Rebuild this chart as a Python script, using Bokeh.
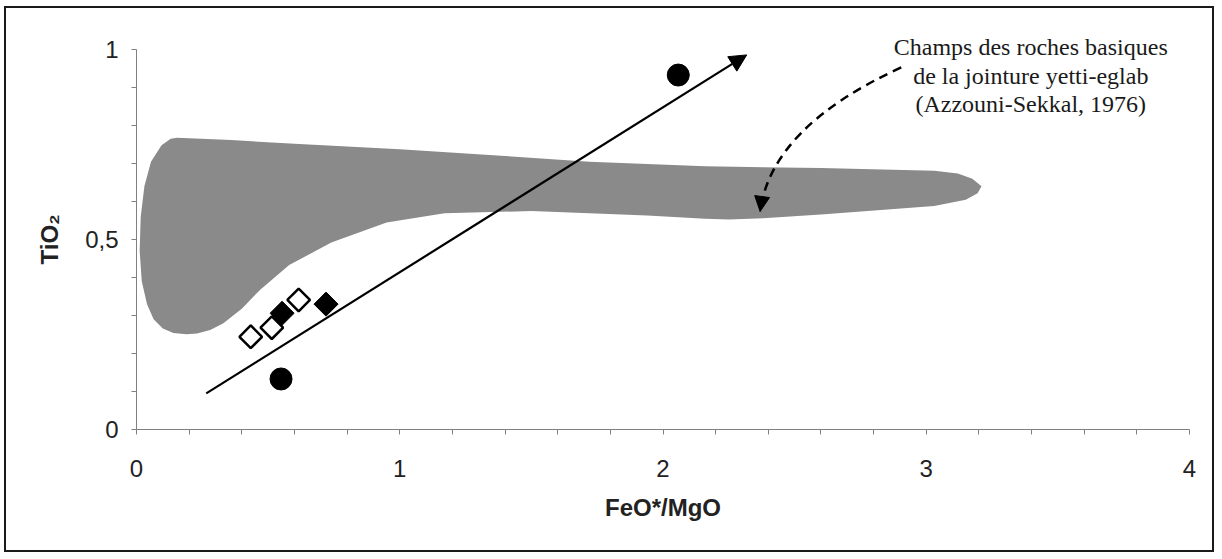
from bokeh.plotting import figure
from bokeh.models import FixedTicker, Arrow, NormalHead, Title
from bokeh.core.properties import value
from bokeh.embed import file_html
from bokeh.resources import INLINE

# --- data ---
# field of basic rocks of the Yetti-Eglab junction (Azzouni-Sekkal, 1976), outline
field_x = [0.154, 0.360, 0.600, 1.000, 1.400, 1.720, 2.160, 2.600, 3.030, 3.120, 3.175, 3.210,
           3.195, 3.150, 3.030, 2.600, 2.380, 2.250, 2.160, 1.940, 1.500, 1.170, 0.950, 0.740,
           0.580, 0.470, 0.400, 0.330, 0.280, 0.230, 0.190, 0.140, 0.100, 0.065, 0.040, 0.020,
           0.012, 0.016, 0.030, 0.055, 0.095, 0.130]
field_y = [0.768, 0.762, 0.752, 0.738, 0.720, 0.705, 0.693, 0.688, 0.681, 0.674, 0.660, 0.640,
           0.622, 0.605, 0.588, 0.566, 0.556, 0.553, 0.555, 0.563, 0.575, 0.569, 0.545, 0.492,
           0.433, 0.368, 0.318, 0.280, 0.262, 0.253, 0.251, 0.254, 0.266, 0.290, 0.330, 0.390,
           0.470, 0.560, 0.640, 0.705, 0.748, 0.765]

open_diamond_x = [0.434, 0.514, 0.616]
open_diamond_y = [0.244, 0.268, 0.341]
filled_diamond_x = [0.553, 0.720]
filled_diamond_y = [0.306, 0.330]
circle_x = [0.549, 2.058]
circle_y = [0.133, 0.933]

# trend arrow (start, end)
trend_x = [0.265, 2.318]
trend_y = [0.095, 0.986]

# dashed pointer: start, control, end
pointer_x = [2.905, 2.412, 2.369]
pointer_y = [0.953, 0.797, 0.574]

note_lines = ["Champs des roches basiques", "de la jointure yetti-eglab", "(Azzouni-Sekkal, 1976)"]
note_x = [3.397, 3.397, 3.397]
note_y = [1.007, 0.930, 0.858]

x_ticks = [0, 1, 2, 3, 4]
x_minor = [0.2, 0.4, 0.6, 0.8, 1.2, 1.4, 1.6, 1.8, 2.2, 2.4, 2.6, 2.8, 3.2, 3.4, 3.6, 3.8]
y_ticks = [0, 0.5, 1]
y_labels = ["0", "0,5", "1"]
y_minor = [0.1, 0.2, 0.3, 0.4, 0.6, 0.7, 0.8, 0.9]

x_title = "FeO*/MgO"
y_title = "TiO₂"

# --- figure ---
p = figure(width=1210, height=546, x_range=(0, 4), y_range=(0, 1.095),
           output_backend="svg", toolbar_location=None,
           min_border_left=130, min_border_right=27, min_border_top=5, min_border_bottom=125)
p.styles = {"border": "2px solid #1a1a1a", "margin-left": "4px", "margin-top": "6px"}
p.outline_line_color = None
p.xgrid.visible = False
p.ygrid.visible = False
p.background_fill_color = "white"
p.border_fill_color = "white"

axis_color = "#808080"
for ax in (p.xaxis[0], p.yaxis[0]):
    ax.axis_line_color = axis_color
    ax.major_tick_line_color = axis_color
    ax.minor_tick_line_color = axis_color
    ax.major_tick_in = 0
    ax.major_tick_out = 5
    ax.minor_tick_in = 0
    ax.minor_tick_out = 5
    ax.major_label_text_font = "Liberation Sans"
    ax.major_label_text_font_size = "24px"
    ax.major_label_text_color = "#222222"
    ax.axis_label_text_font = "Liberation Sans"
    ax.axis_label_text_font_style = "bold"
    ax.axis_label_text_font_size = "24px"
    ax.axis_label_text_color = "#222222"

p.xaxis[0].ticker = FixedTicker(ticks=x_ticks, minor_ticks=x_minor)
p.yaxis[0].ticker = FixedTicker(ticks=y_ticks, minor_ticks=y_minor)
p.yaxis[0].major_label_overrides = {t: l for t, l in zip(y_ticks, y_labels)}
p.yaxis[0].bounds = (0, 1)
p.xaxis[0].axis_label = x_title
p.xaxis[0].major_label_standoff = 25
p.yaxis[0].major_label_standoff = 13
p.xaxis[0].axis_label_standoff = 14

# y title centred on the 0..1 axis span (as in the reference)
p.add_layout(Title(text=y_title, align="left", offset=165, standoff=40,
                   text_font="Liberation Sans", text_font_style="bold", text_font_size="24px",
                   text_color="#222222"), "left")

p.patch(field_x, field_y, fill_color="#8a8a8a", line_color=None)

p.add_layout(Arrow(end=NormalHead(size=17, fill_color="black", line_color="black"),
                   x_start=trend_x[0], y_start=trend_y[0], x_end=trend_x[1], y_end=trend_y[1],
                   line_width=2.2, line_color="black"))

p.quadratic(x0=[pointer_x[0]], y0=[pointer_y[0]], cx=[pointer_x[1]], cy=[pointer_y[1]],
            x1=[pointer_x[2]], y1=[pointer_y[2]], line_color="black", line_width=2.5,
            line_dash="9 6")
p.add_layout(Arrow(end=NormalHead(size=15, fill_color="black", line_color="black"),
                   x_start=pointer_x[2] + 0.3 * (pointer_x[1] - pointer_x[2]),
                   y_start=pointer_y[2] + 0.3 * (pointer_y[1] - pointer_y[2]),
                   x_end=pointer_x[2], y_end=pointer_y[2], line_alpha=0))

p.scatter(circle_x, circle_y, marker="circle", size=22, fill_color="black", line_color="black")
p.scatter(open_diamond_x, open_diamond_y, marker="square", angle=0.785, size=16,
          fill_color="white", line_color="black", line_width=2.5)
p.scatter(filled_diamond_x, filled_diamond_y, marker="square", angle=0.785, size=17,
          fill_color="black", line_color="black", line_width=1)

p.text(note_x, note_y, text=note_lines, text_font=value("Liberation Serif"),
       text_font_size="24px", text_align="center", text_baseline="middle", text_color="#1a1a1a")

open("out.html", "w").write(file_html(p, INLINE))
